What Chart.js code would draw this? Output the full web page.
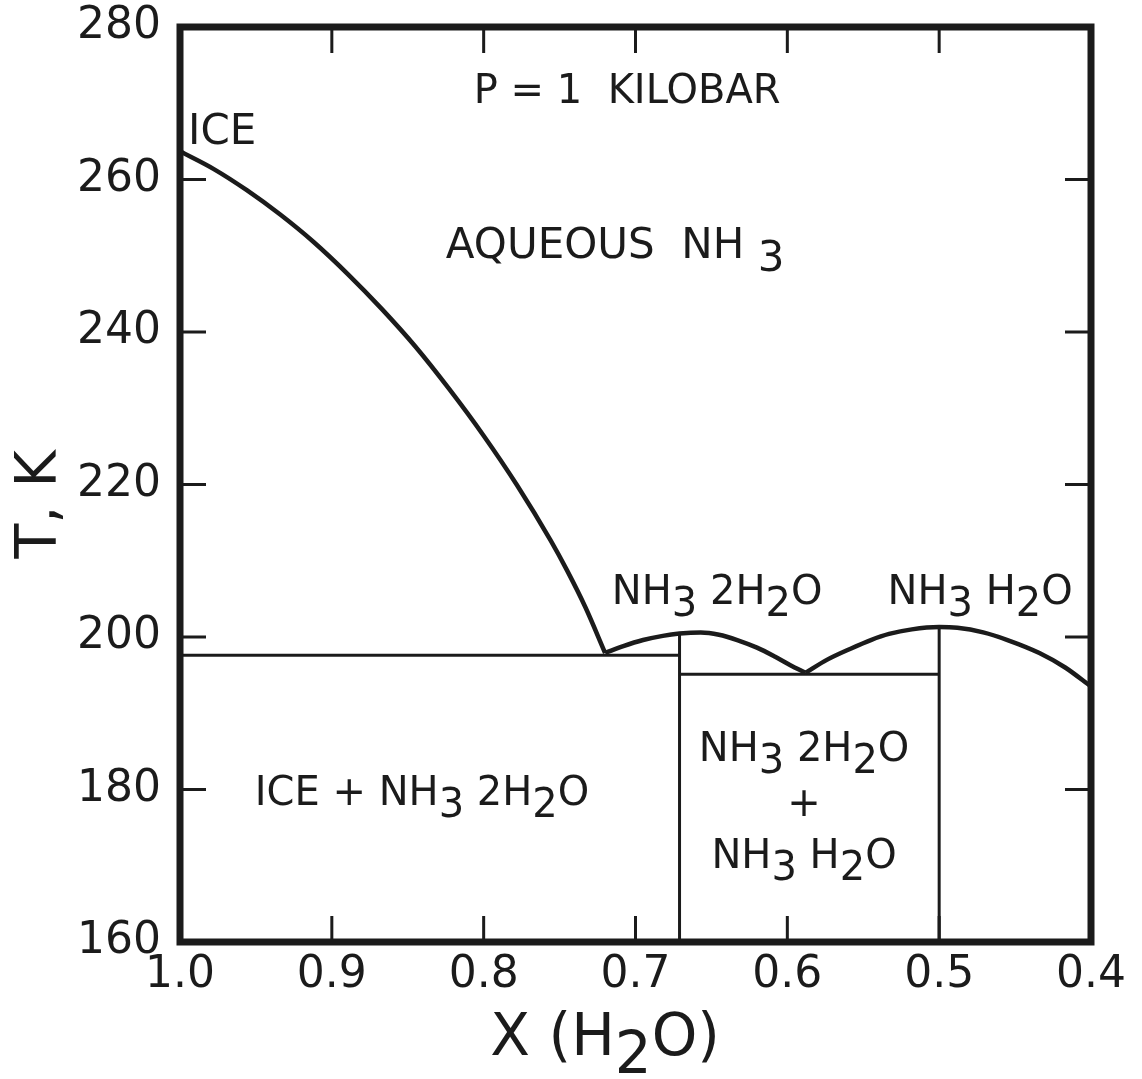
<!DOCTYPE html>
<html>
<head>
<meta charset="utf-8">
<script src="https://cdn.jsdelivr.net/npm/chart.js@4.4.1/dist/chart.umd.min.js"></script>
<style>
  html, body { margin: 0; padding: 0; background: #fff; }
  canvas { display: block; }
</style>
</head>
<body>
<canvas id="phase" width="1142" height="1079"></canvas>
<script>
// NH3-H2O phase diagram at 1 kbar
const FONT = '"DejaVu Sans", "Liberation Sans", sans-serif';
const INK = '#1b1b1b';

// ice liquidus
const iceLiquidusX = [1.0, 0.978, 0.956, 0.934, 0.912, 0.889, 0.867, 0.845, 0.823, 0.800, 0.778, 0.756, 0.745, 0.733, 0.720];
const iceLiquidusT = [263.7, 261.4, 258.6, 255.4, 251.8, 247.5, 243.0, 238.1, 232.6, 226.4, 219.9, 212.7, 208.7, 203.9, 197.9];

// NH3.2H2O liquidus
const dihydrateX = [0.720, 0.708, 0.695, 0.682, 0.671, 0.657, 0.645, 0.633, 0.620, 0.608, 0.598, 0.588];
const dihydrateT = [197.9, 198.8, 199.6, 200.15, 200.45, 200.6, 200.3, 199.6, 198.6, 197.4, 196.3, 195.3];

// NH3.H2O liquidus
const monohydrateX = [0.588, 0.574, 0.558, 0.545, 0.533, 0.518, 0.500, 0.488, 0.471, 0.455, 0.434, 0.417, 0.400];
const monohydrateT = [195.3, 197.0, 198.5, 199.6, 200.4, 201.0, 201.3, 201.2, 200.6, 199.6, 197.9, 196.0, 193.5];

// eutectic tie lines (temperature, from X, to X)
const eutecticT = [197.6, 195.1];
const eutecticFromX = [1.0, 0.671];
const eutecticToX = [0.671, 0.500];

// hydrate compositions and their melting points
const compoundX = [0.671, 0.500];
const compoundMeltT = [200.45, 201.3];

const xMin = 0.4, xMax = 1.0, xStep = 0.1;
const tMin = 160, tMax = 280, tStep = 20;

// region labels; "_" marks a subscript character
const regionLabels = [
  { text: 'P = 1  KILOBAR', x: 0.7055, t: 272.0, size: 40, align: 'center' },
  { text: 'ICE', x: 0.9947, t: 266.7, size: 42, align: 'left' },
  { text: 'AQUEOUS  NH _3', x: 0.7134, t: 251.7, size: 42, align: 'center' },
  { text: 'NH_3 2H_2O', x: 0.6462, t: 206.2, size: 40, align: 'center' },
  { text: 'NH_3 H_2O', x: 0.473, t: 206.2, size: 40, align: 'center' },
  { text: 'ICE + NH_3 2H_2O', x: 0.8406, t: 179.9, size: 40, align: 'center' },
  { text: 'NH_3 2H_2O', x: 0.589, t: 185.7, size: 40, align: 'center' },
  { text: '+', x: 0.589, t: 178.5, size: 40, align: 'center' },
  { text: 'NH_3 H_2O', x: 0.589, t: 171.6, size: 40, align: 'center' }
];

function pairs(xs, ts) {
  return xs.map((x, i) => ({ x: x, y: ts[i] }));
}

function curve(xs, ts) {
  return {
    data: pairs(xs, ts),
    showLine: true,
    borderColor: INK,
    borderWidth: 4.5,
    pointRadius: 0,
    cubicInterpolationMode: 'monotone',
    fill: false
  };
}

function rule(points) {
  return {
    data: points,
    showLine: true,
    borderColor: INK,
    borderWidth: 3,
    pointRadius: 0,
    tension: 0,
    fill: false
  };
}

const datasets = [
  curve(iceLiquidusX, iceLiquidusT),
  curve(dihydrateX, dihydrateT),
  curve(monohydrateX, monohydrateT)
];
eutecticT.forEach((t, i) => {
  datasets.push(rule([{ x: eutecticFromX[i], y: t }, { x: eutecticToX[i], y: t }]));
});
compoundX.forEach((x, i) => {
  datasets.push(rule([{ x: x, y: tMin }, { x: x, y: compoundMeltT[i] }]));
});

// draws text with "_x" subscripts, centred vertically on the cap height
function drawRich(ctx, str, x, y, size, align) {
  const parts = [];
  for (let i = 0; i < str.length; i++) {
    if (str[i] === '_') {
      parts.push({ t: str[i + 1], sub: true });
      i++;
    } else if (parts.length && !parts[parts.length - 1].sub) {
      parts[parts.length - 1].t += str[i];
    } else {
      parts.push({ t: str[i], sub: false });
    }
  }
  ctx.font = size + 'px ' + FONT;
  ctx.textAlign = 'left';
  ctx.textBaseline = 'alphabetic';
  const total = parts.reduce((s, p) => s + ctx.measureText(p.t).width, 0);
  let cx = align === 'left' ? x : x - total / 2;
  const base = y + size * 0.729 / 2;
  parts.forEach(p => {
    ctx.fillText(p.t, cx, p.sub ? base + size * 0.3 : base);
    cx += ctx.measureText(p.t).width;
  });
}

const framePlugin = {
  id: 'frameAndLabels',
  afterDatasetsDraw(chart) {
    const ctx = chart.ctx;
    const a = chart.chartArea;
    const xs = chart.scales.x, ys = chart.scales.y;
    const tickLen = 26;
    ctx.save();
    ctx.strokeStyle = INK;
    ctx.lineCap = 'butt';

    // inward tick marks on all four sides
    ctx.lineWidth = 3;
    ctx.beginPath();
    xs.ticks.forEach(tk => {
      const v = tk.value;
      if (v <= xMin + 1e-6 || v >= xMax - 1e-6) return;
      const px = xs.getPixelForValue(v);
      ctx.moveTo(px, a.top); ctx.lineTo(px, a.top + tickLen);
      ctx.moveTo(px, a.bottom); ctx.lineTo(px, a.bottom - tickLen);
    });
    ys.ticks.forEach(tk => {
      const v = tk.value;
      if (v <= tMin || v >= tMax) return;
      const py = ys.getPixelForValue(v);
      ctx.moveTo(a.left, py); ctx.lineTo(a.left + tickLen, py);
      ctx.moveTo(a.right, py); ctx.lineTo(a.right - tickLen, py);
    });
    ctx.stroke();

    // heavy frame
    ctx.lineWidth = 7;
    ctx.lineJoin = 'miter';
    ctx.strokeRect(a.left, a.top, a.right - a.left, a.bottom - a.top);
    ctx.restore();
  },
  afterDraw(chart) {
    const ctx = chart.ctx;
    const xs = chart.scales.x, ys = chart.scales.y;
    ctx.save();
    ctx.fillStyle = INK;
    regionLabels.forEach(l => {
      drawRich(ctx, l.text, xs.getPixelForValue(l.x), ys.getPixelForValue(l.t), l.size, l.align);
    });

    // axis titles
    drawRich(ctx, 'X (H_2O)', xs.getPixelForValue(0.72), chart.chartArea.bottom + 92, 58, 'center');
    ctx.translate(35, ys.getPixelForValue(217.4));
    ctx.rotate(-Math.PI / 2);
    drawRich(ctx, 'T, K', 0, 0, 57, 'center');
    ctx.restore();
  }
};

new Chart(document.getElementById('phase').getContext('2d'), {
  type: 'scatter',
  data: { datasets: datasets },
  options: {
    responsive: false,
    animation: false,
    layout: { padding: { left: 0, top: 27, right: 51, bottom: 0 } },
    plugins: {
      legend: { display: false },
      tooltip: { enabled: false }
    },
    scales: {
      x: {
        type: 'linear',
        reverse: true,
        min: xMin,
        max: xMax,
        afterFit(scale) {
          scale.height = 1079 - 942;
          scale.paddingLeft = 0;
          scale.paddingRight = 0;
        },
        grid: { display: false, drawTicks: false },
        border: { display: false },
        ticks: {
          stepSize: xStep,
          autoSkip: false,
          maxRotation: 0,
          padding: 7,
          color: INK,
          font: { family: FONT, size: 44 },
          callback: v => Number(v).toFixed(1)
        }
      },
      y: {
        type: 'linear',
        min: tMin,
        max: tMax,
        afterFit(scale) {
          scale.width = 180;
          scale.paddingTop = 0;
          scale.paddingBottom = 0;
        },
        grid: { display: false, drawTicks: false },
        border: { display: false },
        ticks: {
          stepSize: tStep,
          padding: 19,
          color: INK,
          font: { family: FONT, size: 44 }
        }
      }
    }
  },
  plugins: [framePlugin]
});
</script>
</body>
</html>
